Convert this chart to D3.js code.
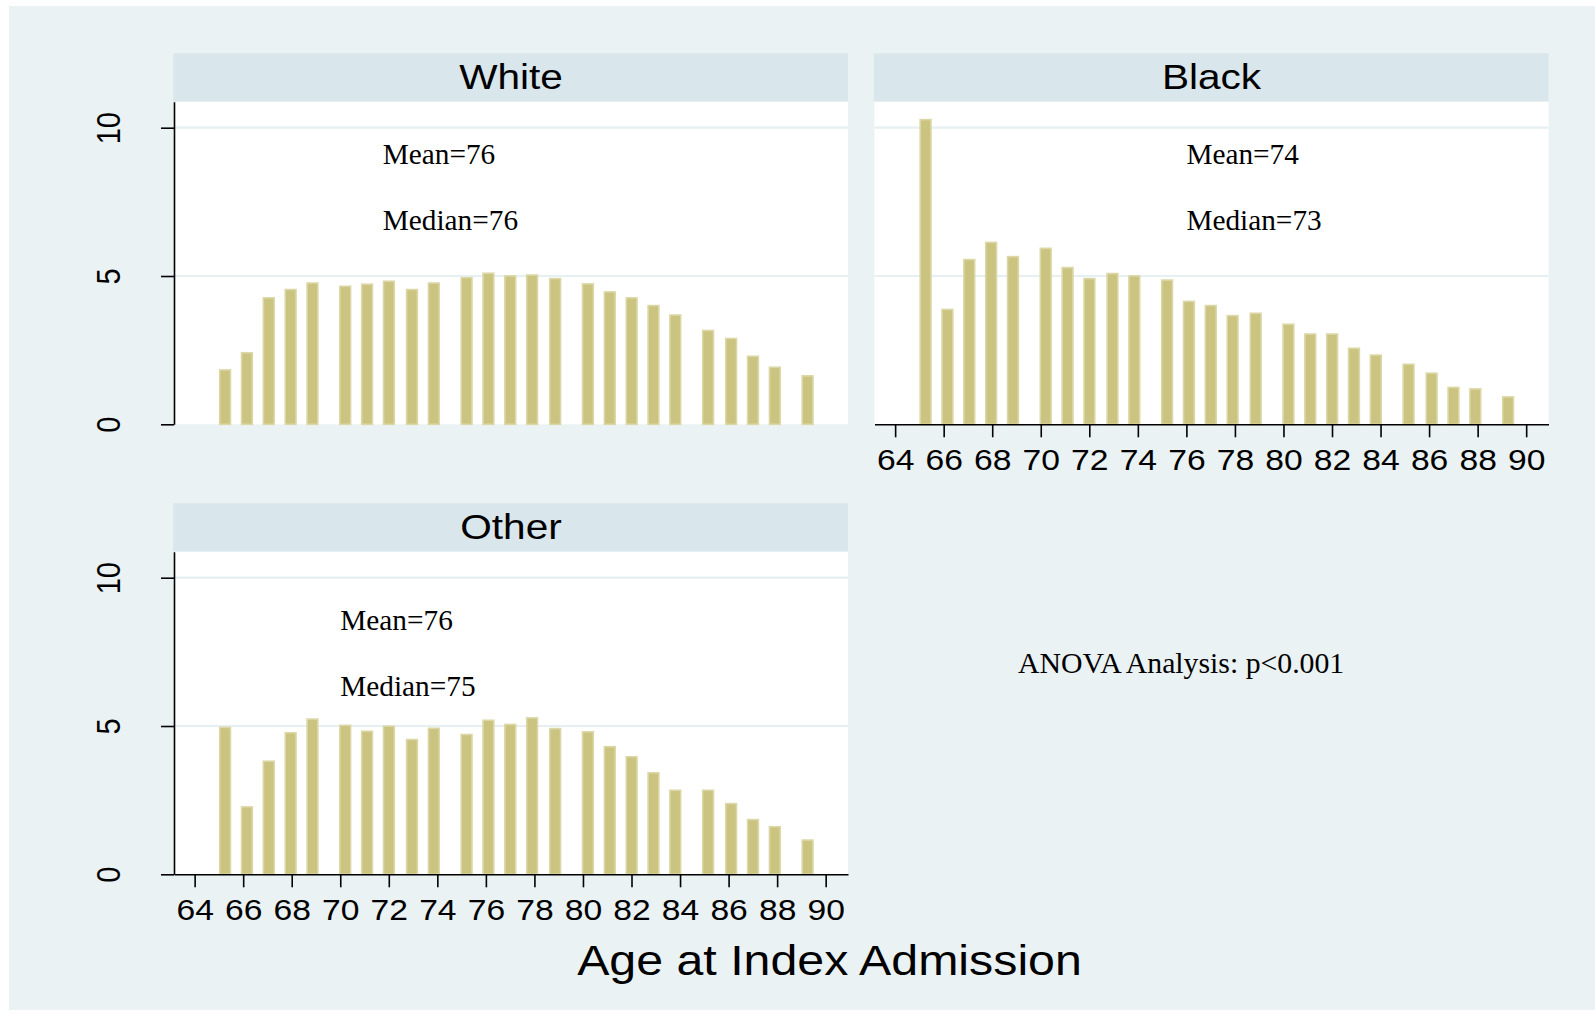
<!DOCTYPE html>
<html>
<head>
<meta charset="utf-8">
<script src="https://cdn.jsdelivr.net/npm/d3@7"></script>
<style>
  body { margin: 0; background: #fff; }
</style>
</head>
<body>
<svg id="chart" width="1595" height="1014"></svg>
<script>
"use strict";

// histogram bins (left edge of each bar, in years of age)
var binStart = [65.0, 65.9, 66.8, 67.7, 68.6, 69.95, 70.85, 71.75, 72.7, 73.6,
                74.95, 75.85, 76.75, 77.65, 78.6, 79.95, 80.85, 81.75, 82.65, 83.55,
                84.9, 85.85, 86.75, 87.65, 89.0];

// percent of patients in each bin
var whitePct = [1.86, 2.44, 4.29, 4.57, 4.79, 4.68, 4.75, 4.85, 4.57, 4.79,
                4.97, 5.12, 5.03, 5.06, 4.94, 4.76, 4.49, 4.29, 4.03, 3.71,
                3.19, 2.92, 2.32, 1.95, 1.66];
var blackPct = [10.3, 3.9, 5.58, 6.16, 5.68, 5.96, 5.31, 4.94, 5.11, 5.03,
                4.89, 4.17, 4.03, 3.69, 3.77, 3.4, 3.07, 3.07, 2.59, 2.36,
                2.05, 1.75, 1.27, 1.22, 0.95];
var otherPct = [4.98, 2.30, 3.84, 4.80, 5.26, 5.05, 4.85, 5.02, 4.57, 4.95,
                4.74, 5.22, 5.08, 5.30, 4.94, 4.83, 4.33, 3.99, 3.45, 2.86,
                2.86, 2.41, 1.87, 1.63, 1.18];

var groups = ["White", "Black", "Other"];
var means = [76, 74, 76];
var medians = [76, 73, 75];

var xTicks = [64, 66, 68, 70, 72, 74, 76, 78, 80, 82, 84, 86, 88, 90];
var yTicks = [0, 5, 10];

var xTitle = "Age at Index Admission";
var anovaNote = "ANOVA Analysis: p<0.001";

// layout
var svg = d3.select("#chart");
var colLeft = [174, 874.5];
var rowTop = [101.7, 551.7];
var pw = 674, ph = 322.6, stripH = 48.4;
var barW = 0.51;
var sans = "'Liberation Sans', Arial, sans-serif";
var serif = "'Liberation Serif', 'Times New Roman', serif";
var stretch = "scale(1.16,1)";

var x = d3.scaleLinear().domain([63.15, 90.92]).range([0, pw]);
var y = d3.scaleLinear().domain([0, 10.877]).range([ph, 0]);

// note positions (age, percent at baseline) per panel
var notePos = [
    { x: 71.75, mean: 8.77, median: 6.54 },
    { x: 76.0, mean: 8.77, median: 6.54 },
    { x: 70.0, mean: 8.22, median: 6.0 }
];

var panels = [
    { values: whitePct, col: 0, row: 0, showX: false, showY: true },
    { values: blackPct, col: 1, row: 0, showX: true, showY: false },
    { values: otherPct, col: 0, row: 1, showX: true, showY: true }
];

svg.append("rect")
    .attr("x", 9).attr("y", 6)
    .attr("width", 1586).attr("height", 1004)
    .attr("fill", "#eaf2f3");

panels.forEach(function (p, i) {
    var g = svg.append("g")
        .attr("transform", "translate(" + colLeft[p.col] + "," + rowTop[p.row] + ")");

    // strip title
    g.append("rect")
        .attr("x", -0.7).attr("y", -stripH)
        .attr("width", pw + 0.7).attr("height", stripH)
        .attr("fill", "#d9e6eb");
    g.append("text")
        .attr("transform", "translate(" + (pw / 2) + "," + (-13.2) + ") " + stretch)
        .attr("text-anchor", "middle")
        .style("font-family", sans)
        .style("font-size", "35px")
        .attr("fill", "#000")
        .text(groups[i]);

    // plot region
    g.append("rect")
        .attr("width", pw).attr("height", ph)
        .attr("fill", "#fff");

    g.selectAll(".grid")
        .data(yTicks.filter(function (d) { return d > 0; }))
        .enter().append("line")
        .attr("x1", 0).attr("x2", pw)
        .attr("y1", function (d) { return y(d); })
        .attr("y2", function (d) { return y(d); })
        .attr("stroke", "#e6eff1")
        .attr("stroke-width", 2.2);

    g.selectAll(".bar")
        .data(p.values)
        .enter().append("rect")
        .attr("x", function (d, k) { return x(binStart[k]) + 0.8; })
        .attr("width", function (d, k) { return x(binStart[k] + barW) - x(binStart[k]) - 1.6; })
        .attr("y", function (d) { return y(d) + 0.8; })
        .attr("height", function (d) { return ph - y(d) - 0.8; })
        .attr("fill", "#cbc380")
        .attr("stroke", "#dcd7a6")
        .attr("stroke-width", 1.6);

    // mean / median notes
    g.append("text")
        .attr("x", x(notePos[i].x)).attr("y", y(notePos[i].mean))
        .style("font-family", serif).style("font-size", "29.3px")
        .text("Mean=" + means[i]);
    g.append("text")
        .attr("x", x(notePos[i].x)).attr("y", y(notePos[i].median))
        .style("font-family", serif).style("font-size", "29.3px")
        .text("Median=" + medians[i]);

    if (p.showY) {
        var ya = g.append("g")
            .call(d3.axisLeft(y).tickValues(yTicks).tickSize(13).tickSizeOuter(0));
        ya.select(".domain").attr("stroke", "#000").attr("stroke-width", 1.6);
        ya.selectAll(".tick line").attr("stroke", "#000").attr("stroke-width", 1.6);
        ya.selectAll(".tick text")
            .attr("x", null).attr("dy", null)
            .attr("text-anchor", "middle")
            .attr("transform", "translate(-54,0) " + stretch + " rotate(-90)")
            .attr("fill", "#000")
            .style("font-family", sans)
            .style("font-size", "29px");
    }

    if (p.showX) {
        var xa = g.append("g")
            .attr("transform", "translate(0," + ph + ")")
            .call(d3.axisBottom(x).tickValues(xTicks).tickSize(13).tickSizeOuter(0));
        xa.select(".domain").attr("stroke", "#000").attr("stroke-width", 1.6);
        xa.selectAll(".tick line").attr("stroke", "#000").attr("stroke-width", 1.6);
        xa.selectAll(".tick text")
            .attr("y", 46).attr("dy", null)
            .attr("transform", stretch)
            .attr("fill", "#000")
            .style("font-family", sans)
            .style("font-size", "29px");
    }
});

svg.append("text")
    .attr("transform", "translate(829.5,975) scale(1.15,1)")
    .attr("text-anchor", "middle")
    .style("font-family", sans)
    .style("font-size", "42px")
    .text(xTitle);

svg.append("text")
    .attr("transform", "translate(1018,673.3) scale(1.045,1)")
    .style("font-family", serif)
    .style("font-size", "28.5px")
    .text(anovaNote);
</script>
</body>
</html>
